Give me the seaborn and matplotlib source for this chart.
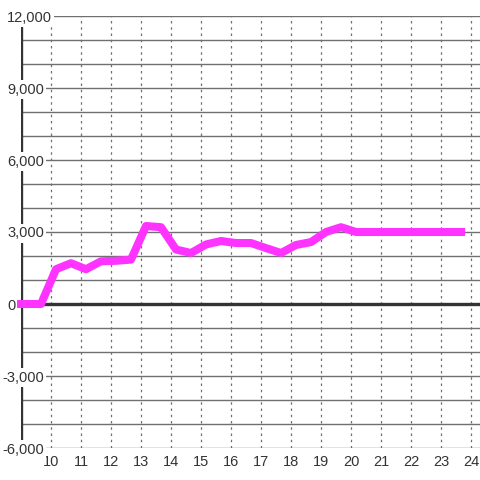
import matplotlib
matplotlib.use("Agg")
import matplotlib.pyplot as plt
import matplotlib.transforms as mtransforms
import seaborn as sns

# hours (decimal) and values
hours = [9.0, 9.667, 10.167, 10.667, 11.167, 11.667, 12.167, 12.667, 13.167, 13.667,
         14.167, 14.667, 15.167, 15.667, 16.167, 16.667, 17.167, 17.667, 18.167, 18.667,
         19.167, 19.667, 20.167, 20.667, 21.167, 21.667, 22.167, 22.667, 23.167, 23.667]
values = [0, 0, 1450, 1700, 1450, 1780, 1800, 1850, 3250, 3200,
          2270, 2125, 2480, 2625, 2540, 2540, 2330, 2125, 2460, 2580,
          3000, 3200, 3000, 3000, 3000, 3000, 3000, 3000, 3000, 3000]

x_ticks = list(range(10, 25))
y_labels = [-6000, -3000, 0, 3000, 6000, 9000, 12000]
y_grid = list(range(-6000, 12001, 1000))

sns.set_style("white")
plt.rcParams["font.family"] = ["Liberation Sans", "DejaVu Sans"]

fig = plt.figure(figsize=(4.8, 4.8), dpi=100)
ax = fig.add_axes([21 / 480, 32 / 480, 459 / 480, 432 / 480])

ax.set_xlim(9, 24.3)
ax.set_ylim(-6000, 12000)

for s in ax.spines.values():
    s.set_visible(False)

# grid
for y in y_grid:
    ax.axhline(y, color="#707070", lw=1.0, zorder=1)
for x in x_ticks:
    ax.axvline(x, color="#707070", lw=0.9, ls=(0, (2, 3)), zorder=1)

# thick axes
ax.axhline(0, color="#333333", lw=2.4, zorder=2)
ax.axvline(9, color="#333333", lw=2.4, zorder=2)

sns.lineplot(x=hours, y=values, ax=ax, color="#ff33ff", linewidth=5.8,
             solid_capstyle="projecting", zorder=4, clip_on=False)

ax.set_xticks(x_ticks)
ax.set_xticklabels([str(t) for t in x_ticks])
ax.tick_params(axis="x", length=0, pad=5, labelsize=10.5, labelcolor="#333333")
ax.set_yticks([])
ax.set_xlabel("")
ax.set_ylabel("")

trans = mtransforms.blended_transform_factory(fig.transFigure, ax.transData)
for v in y_labels:
    xpx = 7 if v >= 0 else 2
    ax.text(xpx / 480, v, f"{v:,}", transform=trans, ha="left", va="center_baseline",
            fontsize=10.5, color="#333333", zorder=5, clip_on=False,
            bbox=dict(facecolor="white", edgecolor="none", pad=1.5))

fig.savefig("out.png", dpi=100)
